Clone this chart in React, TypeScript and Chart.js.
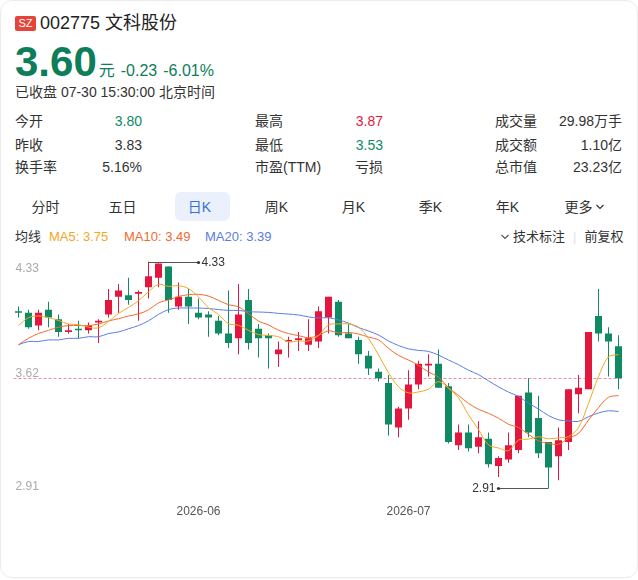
import React, { useEffect, useRef } from 'react';
import Chart from 'chart.js/auto';

// trading days shown in the K-line window
const dates = [
  '2026-05-06', '2026-05-07', '2026-05-08', '2026-05-11', '2026-05-12', '2026-05-13', '2026-05-14', '2026-05-15',
  '2026-05-18', '2026-05-19', '2026-05-20', '2026-05-21', '2026-05-22', '2026-05-25', '2026-05-26', '2026-05-27',
  '2026-05-28', '2026-05-29', '2026-06-01', '2026-06-02', '2026-06-03', '2026-06-04', '2026-06-05', '2026-06-08',
  '2026-06-09', '2026-06-10', '2026-06-11', '2026-06-12', '2026-06-15', '2026-06-16', '2026-06-17', '2026-06-18',
  '2026-06-22', '2026-06-23', '2026-06-24', '2026-06-25', '2026-06-26', '2026-06-29', '2026-06-30', '2026-07-01',
  '2026-07-02', '2026-07-03', '2026-07-06', '2026-07-07', '2026-07-08', '2026-07-09', '2026-07-10', '2026-07-13',
  '2026-07-14', '2026-07-15', '2026-07-16', '2026-07-17', '2026-07-20', '2026-07-21', '2026-07-22', '2026-07-23',
  '2026-07-24', '2026-07-27', '2026-07-28', '2026-07-29', '2026-07-30',
];

const opens = [
  4.02, 4.01, 3.93, 4.03, 3.97, 3.89, 3.91, 3.90, 3.95, 4.00,
  4.11, 4.12, 4.13, 4.17, 4.23, 4.30, 4.05, 4.11, 4.01, 4.00,
  3.96, 3.88, 3.85, 4.09, 3.91, 3.87, 3.75, 3.83, 3.84, 3.81,
  3.83, 3.98, 4.08, 3.88, 3.84, 3.74, 3.64, 3.57, 3.29, 3.41,
  3.56, 3.68, 3.69, 3.55, 3.18, 3.26, 3.17, 3.22, 3.05, 3.09,
  3.15, 3.51, 3.35, 3.20, 3.11, 3.20, 3.50, 3.53, 3.99, 3.88,
  3.80,
];
const highs = [
  4.05, 4.03, 4.03, 4.08, 4.00, 3.94, 3.96, 3.95, 3.97, 4.16,
  4.19, 4.23, 4.15, 4.33, 4.32, 4.30, 4.20, 4.16, 4.10, 4.02,
  3.99, 4.15, 4.19, 4.16, 3.94, 3.88, 3.83, 3.86, 3.89, 3.97,
  4.05, 4.11, 4.09, 3.94, 3.86, 3.77, 3.66, 3.62, 3.42, 3.65,
  3.71, 3.75, 3.78, 3.57, 3.31, 3.31, 3.33, 3.26, 3.11, 3.26,
  3.49, 3.60, 3.49, 3.20, 3.29, 3.53, 3.62, 3.89, 4.16, 3.92,
  3.87,
];
const lows = [
  3.98, 3.91, 3.90, 3.92, 3.86, 3.88, 3.85, 3.88, 3.82, 3.98,
  4.01, 4.06, 3.96, 4.10, 4.17, 4.01, 4.03, 3.94, 3.97, 3.86,
  3.87, 3.79, 3.75, 3.78, 3.73, 3.66, 3.67, 3.73, 3.77, 3.77,
  3.79, 3.88, 3.86, 3.85, 3.69, 3.62, 3.58, 3.24, 3.23, 3.34,
  3.53, 3.61, 3.54, 3.19, 3.15, 3.14, 3.13, 3.04, 2.98, 3.07,
  3.13, 3.23, 3.10, 2.91, 2.96, 3.15, 3.38, 3.53, 3.83, 3.61,
  3.53,
];
const closes = [
  4.01, 3.92, 4.01, 3.98, 3.89, 3.90, 3.90, 3.93, 3.96, 4.09,
  4.15, 4.09, 4.14, 4.24, 4.32, 4.09, 4.11, 4.05, 3.98, 3.98,
  3.88, 3.82, 4.00, 3.82, 3.85, 3.85, 3.78, 3.84, 3.85, 3.85,
  4.02, 4.11, 3.87, 3.85, 3.75, 3.66, 3.60, 3.31, 3.41, 3.56,
  3.69, 3.69, 3.54, 3.20, 3.26, 3.16, 3.23, 3.06, 3.10, 3.18,
  3.49, 3.26, 3.13, 3.04, 3.21, 3.53, 3.54, 3.89, 3.88, 3.83,
  3.60,
];

const ma5Head = [3.93, 3.98, 3.99, 3.98];
const ma10Head = [3.81, 3.85, 3.88, 3.90, 3.92, 3.93, 3.93, 3.93, 3.94];
const ma20Head = [
  3.81, 3.83, 3.83, 3.84, 3.84, 3.85, 3.85, 3.86, 3.86, 3.88,
  3.89, 3.91, 3.93, 3.96, 4.00, 4.03, 4.04, 4.04, 4.04,
];

const priceTicks = [4.33, 3.62, 2.91];

const statRows = [
  [['今开', '3.80', 'down'], ['最高', '3.87', 'up'], ['成交量', '29.98万手', '']],
  [['昨收', '3.83', ''], ['最低', '3.53', 'down'], ['成交额', '1.10亿', '']],
  [['换手率', '5.16%', ''], ['市盈(TTM)', '亏损', ''], ['总市值', '23.23亿', '']],
];
const tabs = ['分时', '五日', '日K', '周K', '月K', '季K', '年K', '更多'];

const UP = '#e3173e';
const DOWN = '#0f8a62';
const MA5_COLOR = '#f5a623';
const MA10_COLOR = '#f26a2b';
const MA20_COLOR = '#5a7ce4';
const FONT = '"Liberation Sans", Arial, "Noto Sans CJK SC", sans-serif';

function movingAverage(n: number, head: number[]) {
  return closes.map((_, i) => {
    if (i < n - 1) return head[i];
    let s = 0;
    for (let k = i - n + 1; k <= i; k++) s += closes[k];
    return s / n;
  });
}

const ma5 = movingAverage(5, ma5Head);
const ma10 = movingAverage(10, ma10Head);
const ma20 = movingAverage(20, ma20Head);

const overlay = {
  id: 'overlay',
  beforeDatasetsDraw(chart: any) {
    const { ctx, chartArea, scales } = chart;
    const y = Math.round(scales.y.getPixelForValue(closes[closes.length - 1])) + 0.5;
    ctx.save();
    ctx.strokeStyle = '#ec8f9c';
    ctx.lineWidth = 1;
    ctx.setLineDash([3, 2]);
    ctx.beginPath();
    ctx.moveTo(chartArea.left, y);
    ctx.lineTo(chartArea.right, y);
    ctx.stroke();
    ctx.restore();
  },
  afterDatasetsDraw(chart: any) {
    const { ctx, chartArea, scales } = chart;
    const xs = scales.x;
    const ys = scales.y;
    ctx.save();
    ctx.font = '12px ' + FONT;

    // price labels on the left
    ctx.fillStyle = '#aaaaaa';
    ctx.textAlign = 'left';
    priceTicks.forEach((p, i) => {
      const y = ys.getPixelForValue(p);
      if (i === 0) {
        ctx.textBaseline = 'top';
        ctx.fillText(p.toFixed(2), chartArea.left + 2, y + 1);
      } else {
        ctx.textBaseline = 'middle';
        ctx.fillText(p.toFixed(2), chartArea.left + 2, y - (i === priceTicks.length - 1 ? 2 : 1));
      }
    });

    // max / min markers
    const hi = Math.max(...highs);
    const lo = Math.min(...lows);
    const iHi = highs.indexOf(hi);
    const iLo = lows.indexOf(lo);
    ctx.strokeStyle = '#555';
    ctx.fillStyle = '#333';
    ctx.lineWidth = 1;
    ctx.textBaseline = 'middle';

    let x0 = xs.getPixelForValue(iHi);
    let y0 = Math.round(ys.getPixelForValue(hi)) + 0.5;
    ctx.beginPath();
    ctx.moveTo(x0, y0);
    ctx.lineTo(x0 + 50, y0);
    ctx.stroke();
    ctx.beginPath();
    ctx.arc(x0 + 50, y0, 1.6, 0, Math.PI * 2);
    ctx.fill();
    ctx.textAlign = 'left';
    ctx.fillText(hi.toFixed(2), x0 + 53, y0);

    x0 = xs.getPixelForValue(iLo);
    y0 = Math.round(ys.getPixelForValue(lo)) + 0.5;
    ctx.beginPath();
    ctx.moveTo(x0, y0);
    ctx.lineTo(x0 - 50, y0);
    ctx.stroke();
    ctx.beginPath();
    ctx.arc(x0 - 50, y0, 1.6, 0, Math.PI * 2);
    ctx.fill();
    ctx.textAlign = 'right';
    ctx.fillText(lo.toFixed(2), x0 - 53, y0);

    // month labels under the plot
    ctx.fillStyle = '#555';
    ctx.textAlign = 'center';
    for (let i = 1; i < dates.length; i++) {
      const m = dates[i].slice(0, 7);
      if (m !== dates[i - 1].slice(0, 7)) {
        ctx.fillText(m, xs.getPixelForValue(i), chartArea.bottom + 17);
      }
    }
    ctx.restore();
  },
};

const KChart: React.FC = () => {
  const canvasRef = useRef<HTMLCanvasElement>(null);
  const chartRef = useRef<Chart | null>(null);

  useEffect(() => {
    if (!canvasRef.current) return;
    if (chartRef.current) chartRef.current.destroy();

    const colors = closes.map((c, i) => (c >= opens[i] ? UP : DOWN));
    const hi = Math.max(...highs);
    const lo = Math.min(...lows);
    const pad = (hi - lo) * 0.03;

    chartRef.current = new Chart(canvasRef.current, {
      type: 'bar',
      data: {
        labels: dates,
        datasets: [
          { type: 'line', label: 'MA5', data: ma5, borderColor: MA5_COLOR, borderWidth: 1, pointRadius: 0, tension: 0.35, order: 0 },
          { type: 'line', label: 'MA10', data: ma10, borderColor: MA10_COLOR, borderWidth: 1, pointRadius: 0, tension: 0.35, order: 0 },
          { type: 'line', label: 'MA20', data: ma20, borderColor: MA20_COLOR, borderWidth: 1, pointRadius: 0, tension: 0.35, order: 0 },
          {
            type: 'bar', label: 'body', data: opens.map((o, i) => [o, closes[i]]) as any,
            backgroundColor: colors, barThickness: 7, grouped: false, minBarLength: 1, inflateAmount: 0, order: 1,
          },
          {
            type: 'bar', label: 'wick', data: lows.map((l, i) => [l, highs[i]]) as any,
            backgroundColor: colors, barThickness: 1, grouped: false, inflateAmount: 0, order: 2,
          },
        ],
      } as any,
      options: {
        responsive: false,
        animation: false,
        events: [],
        layout: { padding: { left: 13.5, right: 14.5, top: 5, bottom: 35 } },
        plugins: { legend: { display: false }, tooltip: { enabled: false } },
        scales: {
          x: { display: false, offset: true },
          y: { display: false, min: lo - pad, max: hi + pad },
        },
      },
      plugins: [overlay],
    });

    return () => {
      if (chartRef.current) {
        chartRef.current.destroy();
        chartRef.current = null;
      }
    };
  }, []);

  return <canvas ref={canvasRef} width={638} height={280} style={{ position: 'absolute', left: 0, top: 250 }} />;
};

const Chevron: React.FC<{ color?: string }> = ({ color = '#333' }) => (
  <svg width="10" height="8" viewBox="0 0 10 8" style={{ marginLeft: 2 }}>
    <polyline points="1.5,2 5,5.5 8.5,2" fill="none" stroke={color} strokeWidth="1.2" />
  </svg>
);

const App: React.FC = () => {
  const colOf = (t: string) => (t === 'up' ? UP : t === 'down' ? DOWN : '#333');
  const colX = [[15, 142], [255, 383], [495, 622]];
  const rowY = [121, 145, 167];
  const last = closes.length - 1;

  return (
    <div style={{ position: 'absolute', left: 0, top: 0, width: 638, height: 580, background: '#fff', fontFamily: FONT, color: '#333', overflow: 'hidden' }}>
      <div style={{ position: 'absolute', left: 0, top: 0, width: 636, height: 576, border: '1px solid #ebebeb', borderRadius: 12 }} />

      <div style={{ position: 'absolute', left: 15, top: 16, width: 21, height: 15, background: '#e5443b', color: '#fff', fontSize: 11, lineHeight: '15px', textAlign: 'center', borderRadius: 2 }}>SZ</div>
      <div style={{ position: 'absolute', left: 40, top: 12, fontSize: 18, lineHeight: '22px', color: '#222' }}>002775 文科股份</div>

      <div style={{ position: 'absolute', left: 15, top: 41, display: 'flex', alignItems: 'baseline', color: '#0d7d5a', whiteSpace: 'nowrap' }}>
        <span style={{ fontSize: 42, fontWeight: 'bold', lineHeight: '42px' }}>3.60</span>
        <span style={{ fontSize: 16, marginLeft: 2 }}>元</span>
        <span style={{ fontSize: 16, marginLeft: 6 }}>-0.23</span>
        <span style={{ fontSize: 16, marginLeft: 6 }}>-6.01%</span>
      </div>
      <div style={{ position: 'absolute', left: 15, top: 83, fontSize: 14, lineHeight: '18px' }}>已收盘 07-30 15:30:00 北京时间</div>

      {statRows.map((row, r) =>
        row.map(([label, value, tone], c) => (
          <React.Fragment key={`${r}-${c}`}>
            <div style={{ position: 'absolute', left: colX[c][0], top: rowY[r] - 9, fontSize: 14, lineHeight: '18px' }}>{label}</div>
            <div style={{ position: 'absolute', right: 638 - colX[c][1], top: rowY[r] - 9, fontSize: 14, lineHeight: '18px', color: colOf(tone), whiteSpace: 'nowrap' }}>{value}</div>
          </React.Fragment>
        ))
      )}

      <div style={{ position: 'absolute', left: 175, top: 192, width: 55, height: 29, background: '#eaf1fd', borderRadius: 6 }} />
      {tabs.map((t, i) => (
        <div key={t} style={{ position: 'absolute', left: 7 + 77 * i, top: 197, width: 77, textAlign: 'center', fontSize: 14, lineHeight: '20px', color: i === 2 ? '#3b6fd8' : '#333', display: 'flex', justifyContent: 'center', alignItems: 'center' }}>
          {t}
          {i === tabs.length - 1 && <Chevron />}
        </div>
      ))}

      <div style={{ position: 'absolute', left: 15, top: 228, fontSize: 13, lineHeight: '18px', whiteSpace: 'nowrap' }}>均线</div>
      <div style={{ position: 'absolute', left: 49, top: 228, fontSize: 13, lineHeight: '18px', color: MA5_COLOR }}>MA5: {ma5[last].toFixed(2)}</div>
      <div style={{ position: 'absolute', left: 124, top: 228, fontSize: 13, lineHeight: '18px', color: MA10_COLOR }}>MA10: {ma10[last].toFixed(2)}</div>
      <div style={{ position: 'absolute', left: 205, top: 228, fontSize: 13, lineHeight: '18px', color: MA20_COLOR }}>MA20: {ma20[last].toFixed(2)}</div>
      <div style={{ position: 'absolute', left: 498, top: 228, fontSize: 13, lineHeight: '18px', display: 'flex', alignItems: 'center', whiteSpace: 'nowrap' }}>
        <Chevron color="#555" />
        <span style={{ marginLeft: 3 }}>技术标注</span>
        <span style={{ color: '#e0e0e0', margin: '0 8px' }}>|</span>
        <span>前复权</span>
      </div>

      <KChart />
    </div>
  );
};

export default App;
